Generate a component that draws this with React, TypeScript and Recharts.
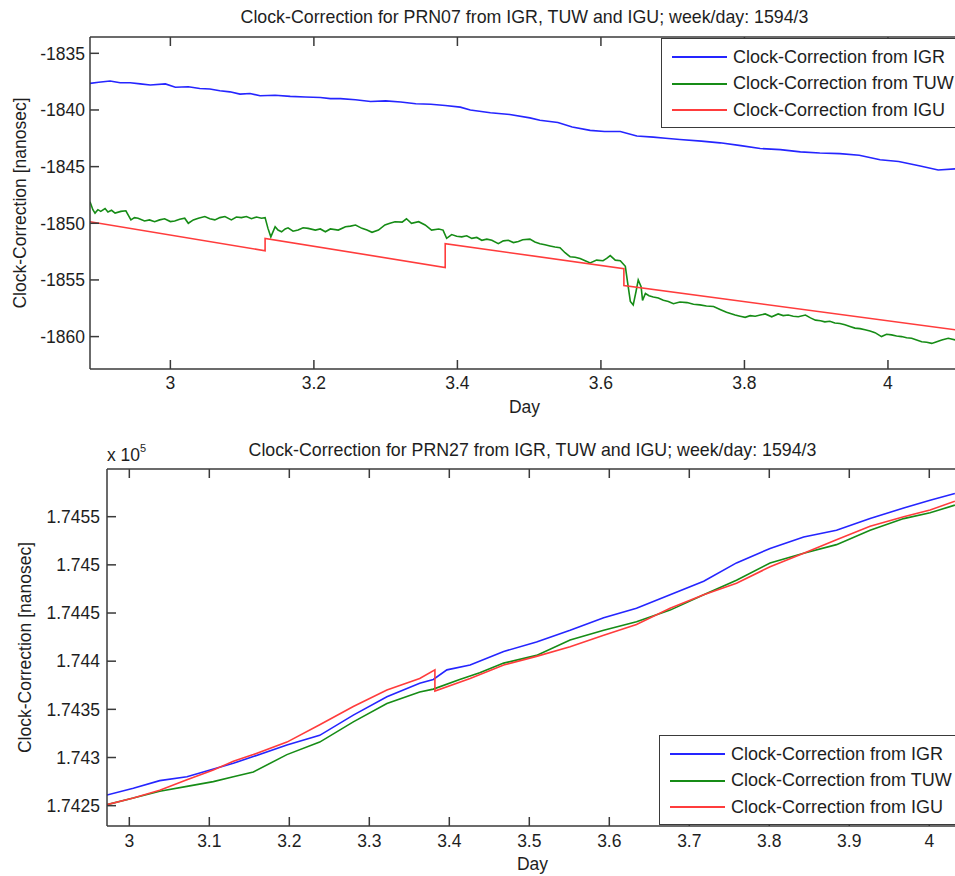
import React from "react";
import { LineChart, Line, XAxis, YAxis, Legend, Label } from "recharts";

const FONT = '"Liberation Sans", Arial, sans-serif';
const FONT_SIZE = 17.5;
const AXIS_COLOR = "#3a3a3a";
const TEXT_COLOR = "#1e1e1e";
const IGR_COLOR = "#2525ff";
const TUW_COLOR = "#168c16";
const IGU_COLOR = "#ff3c3c";
const TICK_LEN = 9;

const SERIES_NAMES = [
  "Clock-Correction from IGR",
  "Clock-Correction from TUW",
  "Clock-Correction from IGU",
];

// ---- PRN07 (top) ----
const prn07Title = "Clock-Correction for PRN07 from IGR, TUW and IGU; week/day: 1594/3";
const prn07XTicks = [3, 3.2, 3.4, 3.6, 3.8, 4];
const prn07YTicks = [-1860, -1855, -1850, -1845, -1840, -1835];

const prn07IgrDays = [
  2.888, 2.9, 2.916, 2.93, 2.944, 2.958, 2.972, 2.993, 3.007, 3.025, 3.041, 3.055, 3.069, 3.083,
  3.097, 3.111, 3.125, 3.146, 3.167, 3.188, 3.209, 3.223, 3.237, 3.258, 3.279, 3.3, 3.321, 3.342,
  3.363, 3.383, 3.404, 3.418, 3.446, 3.473, 3.501, 3.515, 3.54, 3.56, 3.585, 3.605, 3.627, 3.65,
  3.673, 3.69, 3.71, 3.74, 3.766, 3.795, 3.822, 3.85, 3.878, 3.905, 3.933, 3.96, 3.989, 4.015,
  4.045, 4.07, 4.094,
];
const prn07IgrValues = [
  -1837.65, -1837.55, -1837.45, -1837.6, -1837.6, -1837.7, -1837.8, -1837.7, -1838.0, -1837.95,
  -1838.1, -1838.15, -1838.3, -1838.4, -1838.6, -1838.55, -1838.75, -1838.7, -1838.8, -1838.85,
  -1838.9, -1839.0, -1839.0, -1839.1, -1839.25, -1839.2, -1839.3, -1839.45, -1839.5, -1839.6,
  -1839.75, -1840.0, -1840.25, -1840.4, -1840.7, -1840.9, -1841.1, -1841.5, -1841.8, -1841.9,
  -1841.9, -1842.3, -1842.4, -1842.5, -1842.6, -1842.75, -1842.9, -1843.15, -1843.4, -1843.5,
  -1843.7, -1843.8, -1843.85, -1844.0, -1844.4, -1844.55, -1844.95, -1845.3, -1845.2,
];

const prn07TuwDays = [
  2.888, 2.892, 2.895, 2.899, 2.903, 2.909, 2.913, 2.918, 2.923, 2.931, 2.938, 2.945, 2.95, 2.955,
  2.964, 2.971, 2.978, 2.985, 2.992, 3.0, 3.006, 3.013, 3.02, 3.025, 3.032, 3.039, 3.048, 3.055,
  3.062, 3.069, 3.076, 3.085, 3.092, 3.099, 3.106, 3.113, 3.12, 3.127, 3.132, 3.136, 3.14, 3.146,
  3.15, 3.155, 3.16, 3.164, 3.171, 3.178, 3.185, 3.192, 3.202, 3.209, 3.216, 3.223, 3.234, 3.244,
  3.251, 3.258, 3.267, 3.274, 3.281, 3.29, 3.299, 3.306, 3.313, 3.323, 3.329, 3.336, 3.346, 3.355,
  3.364, 3.374, 3.38, 3.385, 3.392, 3.399, 3.406, 3.413, 3.42, 3.427, 3.434, 3.441, 3.448, 3.457,
  3.464, 3.471, 3.478, 3.485, 3.491, 3.501, 3.508, 3.515, 3.522, 3.529, 3.536, 3.543, 3.55, 3.557,
  3.564, 3.571, 3.578, 3.585, 3.594, 3.603, 3.608, 3.613, 3.62, 3.627, 3.634, 3.637, 3.641, 3.645,
  3.649, 3.652, 3.656, 3.658, 3.662, 3.667, 3.673, 3.68, 3.687, 3.694, 3.701, 3.71, 3.72, 3.729,
  3.738, 3.747, 3.757, 3.766, 3.775, 3.787, 3.794, 3.801, 3.808, 3.815, 3.822, 3.829, 3.838, 3.847,
  3.854, 3.861, 3.868, 3.875, 3.885, 3.892, 3.899, 3.906, 3.912, 3.919, 3.926, 3.933, 3.94, 3.947,
  3.954, 3.961, 3.968, 3.975, 3.982, 3.991, 3.998, 4.005, 4.012, 4.019, 4.026, 4.033, 4.04, 4.047,
  4.054, 4.061, 4.068, 4.075, 4.084, 4.094,
];
const prn07TuwValues = [
  -1848.1, -1848.8, -1849.1, -1848.8, -1848.95, -1848.7, -1849.0, -1848.85, -1849.1, -1848.95,
  -1848.9, -1849.7, -1849.5, -1849.55, -1849.8, -1849.7, -1849.86, -1849.7, -1849.6, -1849.85,
  -1849.8, -1849.65, -1849.55, -1850.0, -1849.7, -1849.55, -1849.4, -1849.6, -1849.7, -1849.5,
  -1849.4, -1849.7, -1849.45, -1849.5, -1849.4, -1849.6, -1849.45, -1849.55, -1849.5, -1850.45,
  -1851.2, -1850.3, -1850.6, -1850.75, -1850.5, -1850.4, -1850.7, -1850.6, -1850.4, -1850.45,
  -1850.6, -1850.5, -1850.75, -1850.5, -1850.6, -1850.3, -1850.25, -1850.15, -1850.45, -1850.6,
  -1850.8, -1850.6, -1850.15, -1850.0, -1849.86, -1849.9, -1849.6, -1850.0, -1849.86, -1850.15,
  -1850.6, -1850.5, -1850.6, -1851.33, -1851.0, -1851.15, -1851.2, -1851.1, -1851.33, -1851.25,
  -1851.5, -1851.4, -1851.5, -1851.8, -1851.55, -1851.5, -1851.7, -1851.6, -1851.45, -1851.4,
  -1851.65, -1851.8, -1851.9, -1852.0, -1852.1, -1852.15, -1852.6, -1852.95, -1853.0, -1853.1,
  -1853.3, -1853.5, -1853.25, -1853.3, -1853.1, -1852.85, -1853.25, -1853.3, -1853.8, -1855.15,
  -1856.9, -1857.2, -1856.0, -1855.0, -1855.6, -1856.8, -1856.2, -1856.4, -1856.5, -1856.6,
  -1856.8, -1856.9, -1857.1, -1856.95, -1857.0, -1857.15, -1857.2, -1857.3, -1857.35, -1857.6,
  -1857.85, -1858.1, -1858.2, -1858.3, -1858.15, -1858.2, -1858.1, -1858.0, -1858.25, -1858.0,
  -1858.15, -1858.1, -1858.2, -1858.25, -1858.1, -1858.35, -1858.55, -1858.6, -1858.7, -1858.65,
  -1858.8, -1858.85, -1858.95, -1859.1, -1859.25, -1859.3, -1859.4, -1859.5, -1859.65, -1860.0,
  -1859.8, -1859.85, -1859.95, -1860.0, -1860.1, -1860.15, -1860.3, -1860.45, -1860.5, -1860.6,
  -1860.45, -1860.3, -1860.15, -1860.3,
];

const prn07IguDays = [2.888, 3.132, 3.132, 3.383, 3.383, 3.632, 3.632, 4.094];
const prn07IguValues = [-1849.86, -1852.42, -1851.33, -1853.9, -1851.8, -1854.0, -1855.5, -1859.4];

// ---- PRN27 (bottom), values in ns ----
const prn27Title = "Clock-Correction for PRN27 from IGR, TUW and IGU; week/day: 1594/3";
const prn27XTicks = [3, 3.1, 3.2, 3.3, 3.4, 3.5, 3.6, 3.7, 3.8, 3.9, 4];
const prn27YTicks = [174250, 174300, 174350, 174400, 174450, 174500, 174550];

const prn27IgrDays = [
  2.972, 3.005, 3.038, 3.072, 3.101, 3.13, 3.155, 3.197, 3.238, 3.28, 3.322, 3.363, 3.38, 3.397,
  3.426, 3.468, 3.509, 3.551, 3.593, 3.634, 3.676, 3.718, 3.759, 3.801, 3.843, 3.884, 3.926, 3.968,
  4.001, 4.032,
];
const prn27IgrValues = [
  174261, 174268, 174276, 174280, 174287, 174294, 174301, 174313, 174323, 174344, 174363, 174377,
  174381, 174391, 174396, 174410, 174420, 174432, 174445, 174455, 174469, 174483, 174502, 174517,
  174529, 174536, 174548, 174559, 174567, 174574,
];

const prn27TuwDays = [
  2.972, 3.005, 3.038, 3.072, 3.105, 3.13, 3.155, 3.197, 3.238, 3.28, 3.322, 3.363, 3.38, 3.413,
  3.438, 3.468, 3.509, 3.551, 3.593, 3.634, 3.676, 3.718, 3.759, 3.801, 3.843, 3.884, 3.926, 3.968,
  4.001, 4.032,
];
const prn27TuwValues = [
  174251, 174258, 174265, 174270, 174275, 174280, 174285, 174303, 174316, 174337, 174356, 174368,
  174371, 174381, 174388, 174398, 174406, 174422, 174432, 174441, 174453, 174469, 174484, 174502,
  174512, 174521, 174536, 174548, 174554, 174562,
];

const prn27IguDays = [
  2.972, 3.005, 3.038, 3.072, 3.105, 3.13, 3.155, 3.197, 3.238, 3.28, 3.322, 3.363, 3.382, 3.382,
  3.426, 3.468, 3.509, 3.551, 3.593, 3.634, 3.676, 3.718, 3.759, 3.801, 3.843, 3.884, 3.926, 3.968,
  4.001, 4.032,
];
const prn27IguValues = [
  174251, 174258, 174266, 174277, 174287, 174296, 174303, 174316, 174334, 174353, 174370, 174382,
  174391, 174369, 174382, 174396, 174405, 174415, 174427, 174438, 174455, 174469, 174481, 174498,
  174512, 174526, 174540, 174550, 174557, 174566,
];

const toPoints = (days: number[], values: number[]) =>
  days.map((day, i) => ({ day, value: values[i] }));

const lineStyle = { stroke: AXIS_COLOR, strokeWidth: 1.5 };

// ticks point inward (MATLAB style); recharts gives x/y at the axis line because tickSize/tickMargin are 0
const BottomTick = ({ x, y, payload, gap }: any) => (
  <g>
    <rect x={x - 0.75} y={y - TICK_LEN} width={1.5} height={TICK_LEN} fill={AXIS_COLOR} />
    <text x={x} y={y + gap} textAnchor="middle" fill={TEXT_COLOR} fontSize={FONT_SIZE} fontFamily={FONT}>
      {payload.value}
    </text>
  </g>
);

const TopTick = ({ x, y }: any) => (
  <rect x={x - 0.75} y={y} width={1.5} height={TICK_LEN} fill={AXIS_COLOR} />
);

const LeftTick = ({ x, y, payload, gap, format }: any) => (
  <g>
    <rect x={x} y={y - 0.75} width={TICK_LEN} height={1.5} fill={AXIS_COLOR} />
    <text
      x={x - gap}
      y={y}
      dy="0.36em"
      textAnchor="end"
      fill={TEXT_COLOR}
      fontSize={FONT_SIZE}
      fontFamily={FONT}
    >
      {format ? format(payload.value) : payload.value}
    </text>
  </g>
);

const RightTick = ({ x, y }: any) => (
  <rect x={x - TICK_LEN} y={y - 0.75} width={TICK_LEN} height={1.5} fill={AXIS_COLOR} />
);

const LegendBox = ({ payload }: any) => {
  const items = [...(payload || [])].sort(
    (a: any, b: any) => SERIES_NAMES.indexOf(a.value) - SERIES_NAMES.indexOf(b.value)
  );
  return (
    <div
      style={{
        background: "#fff",
        border: `1.5px solid ${AXIS_COLOR}`,
        padding: "5px 0 3px 10px",
        fontFamily: FONT,
        fontSize: 18,
        color: TEXT_COLOR,
        width: 320,
        boxSizing: "border-box",
      }}
    >
      {items.map((entry: any) => (
        <div key={entry.value} style={{ display: "flex", alignItems: "center", height: 26.6 }}>
          <div style={{ width: 55, height: 2, background: entry.color, marginRight: 6 }} />
          <span style={{ whiteSpace: "nowrap" }}>{entry.value}</span>
        </div>
      ))}
    </div>
  );
};

interface PanelProps {
  title: string;
  width: number;
  height: number;
  margin: { top: number; right: number; bottom: number; left: number };
  yAxisWidth: number;
  xDomain: [number, number];
  yDomain: [number, number];
  xTicks: number[];
  yTicks: number[];
  xLabelGap: number;
  yLabelGap: number;
  yLabelOffset: number;
  titleOffset: number;
  legendPos: { left: number; top: number };
  igr: { day: number; value: number }[];
  tuw: { day: number; value: number }[];
  igu: { day: number; value: number }[];
  yFormat?: (v: number) => string;
  exponent?: boolean;
}

function Panel(p: PanelProps) {
  return (
    <LineChart width={p.width} height={p.height} margin={p.margin}>
      <XAxis
        xAxisId="x"
        dataKey="day"
        type="number"
        domain={p.xDomain}
        ticks={p.xTicks}
        allowDataOverflow
        interval={0}
        height={50}
        tickSize={0}
        tickMargin={0}
        tickLine={false}
        tick={<BottomTick gap={p.xLabelGap} />}
        axisLine={lineStyle}
      >
        <Label value="Day" position="insideBottom" offset={6} fill={TEXT_COLOR} fontSize={FONT_SIZE} fontFamily={FONT} />
      </XAxis>
      <XAxis
        xAxisId="top"
        orientation="top"
        dataKey="day"
        type="number"
        domain={p.xDomain}
        ticks={p.xTicks}
        allowDataOverflow
        interval={0}
        height={30}
        tickSize={0}
        tickMargin={0}
        tickLine={false}
        tick={<TopTick />}
        axisLine={lineStyle}
      >
        <Label value={p.title} position="insideTop" offset={p.titleOffset} fill={TEXT_COLOR} fontSize={17.8} fontFamily={FONT} />
      </XAxis>
      <YAxis
        yAxisId="y"
        type="number"
        domain={p.yDomain}
        ticks={p.yTicks}
        allowDataOverflow
        interval={0}
        width={p.yAxisWidth}
        tickSize={0}
        tickMargin={0}
        tickLine={false}
        tick={<LeftTick gap={p.yLabelGap} format={p.yFormat} />}
        axisLine={lineStyle}
      >
        <Label
          value="Clock-Correction [nanosec]"
          angle={-90}
          position="insideLeft"
          offset={p.yLabelOffset}
          fill={TEXT_COLOR}
          fontSize={FONT_SIZE}
          fontFamily={FONT}
          style={{ textAnchor: "middle" }}
        />
        {p.exponent && (
          <Label
            content={(props: any) => {
              const vb = props.viewBox || { x: 20, y: 39, width: 87 };
              return (
                <text x={vb.x + vb.width} y={vb.y - 8} fill={TEXT_COLOR} fontFamily={FONT} fontSize={FONT_SIZE}>
                  x 10
                  <tspan dy={-9} fontSize={11}>
                    5
                  </tspan>
                </text>
              );
            }}
          />
        )}
      </YAxis>
      <YAxis
        yAxisId="right"
        orientation="right"
        type="number"
        domain={p.yDomain}
        ticks={p.yTicks}
        allowDataOverflow
        interval={0}
        width={0}
        tickSize={0}
        tickMargin={0}
        tickLine={false}
        tick={<RightTick />}
        axisLine={lineStyle}
      />
      <Legend
        layout="vertical"
        align="center"
        verticalAlign="middle"
        wrapperStyle={{ left: p.legendPos.left, top: p.legendPos.top, width: 320 }}
        content={<LegendBox />}
      />
      <Line
        xAxisId="x"
        yAxisId="y"
        data={p.igr}
        dataKey="value"
        name={SERIES_NAMES[0]}
        stroke={IGR_COLOR}
        strokeWidth={1.6}
        dot={false}
        isAnimationActive={false}
      />
      <Line
        xAxisId="x"
        yAxisId="y"
        data={p.tuw}
        dataKey="value"
        name={SERIES_NAMES[1]}
        stroke={TUW_COLOR}
        strokeWidth={1.6}
        dot={false}
        isAnimationActive={false}
      />
      <Line
        xAxisId="x"
        yAxisId="y"
        data={p.igu}
        dataKey="value"
        name={SERIES_NAMES[2]}
        stroke={IGU_COLOR}
        strokeWidth={1.6}
        dot={false}
        isAnimationActive={false}
      />
    </LineChart>
  );
}

export default function App() {
  return (
    <div
      style={{
        position: "absolute",
        left: 0,
        top: 0,
        width: 955,
        height: 876,
        overflow: "hidden",
        background: "#fff",
      }}
    >
      <div style={{ position: "absolute", left: 0, top: 0 }}>
        <Panel
          title={prn07Title}
          width={965}
          height={420}
          margin={{ top: 7, right: 6, bottom: 1, left: 18 }}
          yAxisWidth={72}
          xDomain={[2.888, 4.099]}
          yDomain={[-1862.86, -1833.56]}
          xTicks={prn07XTicks}
          yTicks={prn07YTicks}
          xLabelGap={19.5}
          yLabelGap={5}
          yLabelOffset={2}
          titleOffset={3}
          legendPos={{ left: 661, top: 38 }}
          igr={toPoints(prn07IgrDays, prn07IgrValues)}
          tuw={toPoints(prn07TuwDays, prn07TuwValues)}
          igu={toPoints(prn07IguDays, prn07IguValues)}
        />
      </div>
      <div style={{ position: "absolute", left: 0, top: 430 }}>
        <Panel
          title={prn27Title}
          width={965}
          height={446}
          margin={{ top: 9, right: 7, bottom: 0, left: 20 }}
          yAxisWidth={87}
          xDomain={[2.9721, 4.0359]}
          yDomain={[174228.9, 174599.5]}
          xTicks={prn27XTicks}
          yTicks={prn27YTicks}
          xLabelGap={20.5}
          yLabelGap={7}
          yLabelOffset={5}
          titleOffset={4}
          legendPos={{ left: 659, top: 305 }}
          igr={toPoints(prn27IgrDays, prn27IgrValues)}
          tuw={toPoints(prn27TuwDays, prn27TuwValues)}
          igu={toPoints(prn27IguDays, prn27IguValues)}
          yFormat={(v: number) => String(parseFloat((v / 1e5).toFixed(5)))}
          exponent
        />
      </div>
    </div>
  );
}
